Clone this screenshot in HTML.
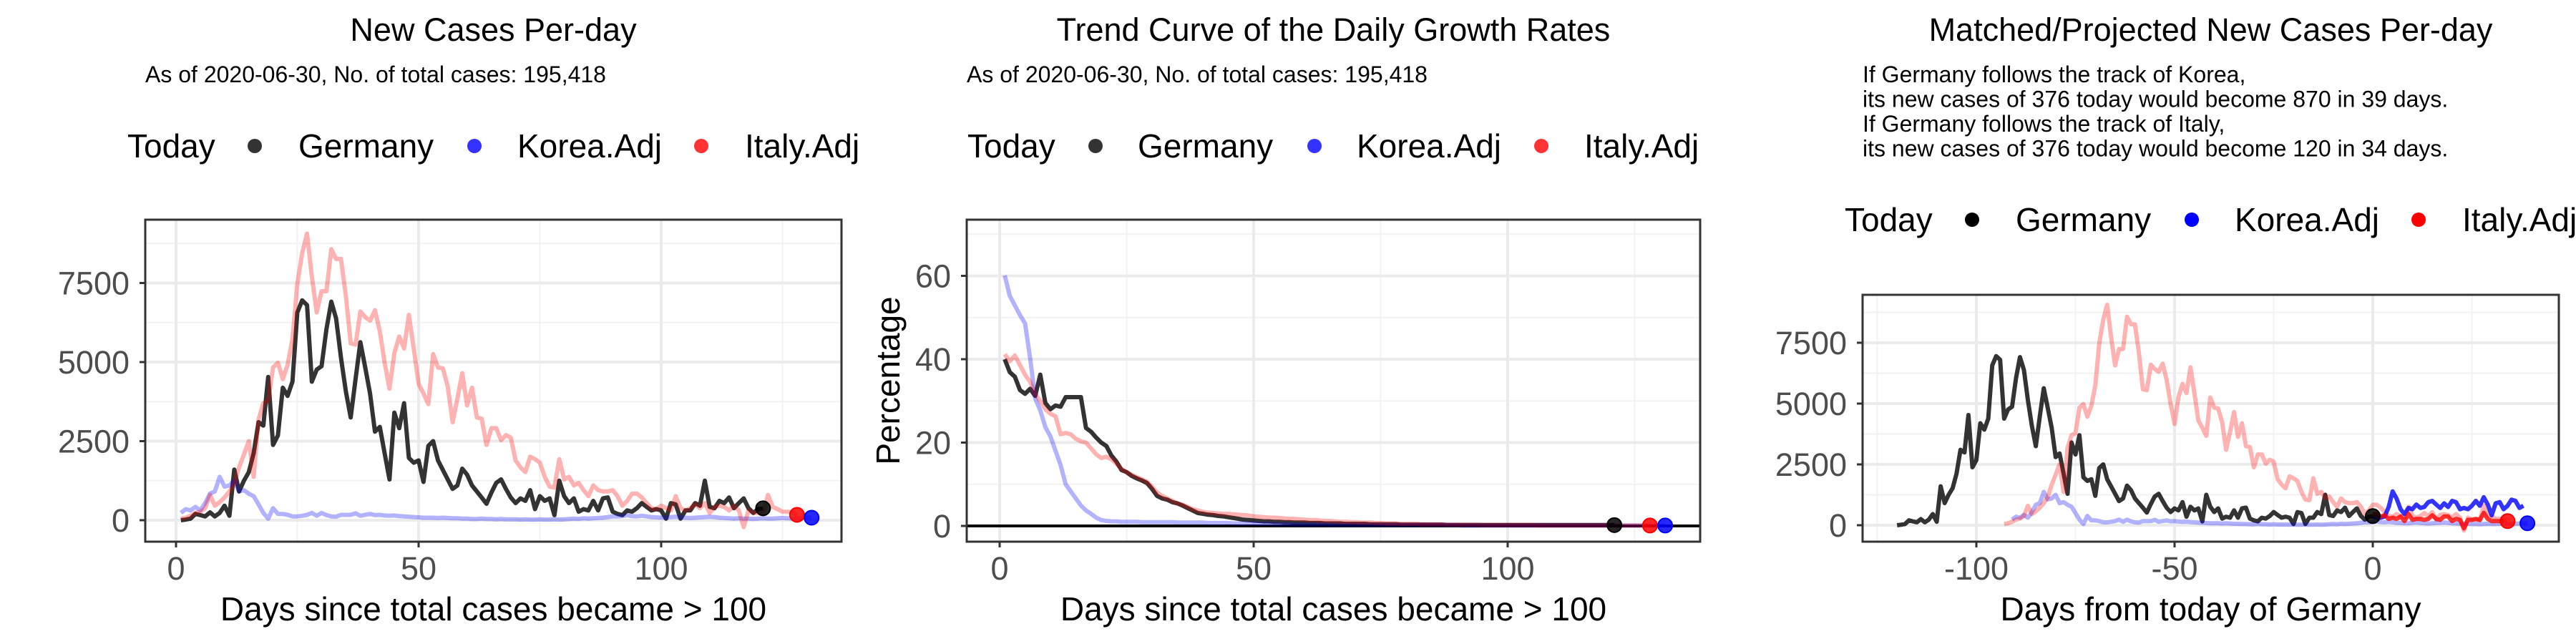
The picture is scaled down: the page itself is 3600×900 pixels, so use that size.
<!DOCTYPE html>
<html><head><meta charset="utf-8">
<style>
html,body{margin:0;padding:0;background:#fff;}
svg{display:block;font-family:"Liberation Sans",Arial,sans-serif;}
</style></head>
<body>
<svg id="chart" width="3600" height="900" viewBox="0 0 3600 900" xmlns="http://www.w3.org/2000/svg">
<defs>
<clipPath id="clip1"><rect x="203" y="307" width="973" height="450"/></clipPath>
<clipPath id="clip2"><rect x="151" y="307" width="1025" height="450"/></clipPath>
<clipPath id="clip3"><rect x="203" y="412" width="973" height="345"/></clipPath>
</defs>
<rect width="3600" height="900" fill="#fff"/>
</svg>
<script>
// ---------- data ----------
const germanyNew = [0,20,50,200,160,120,250,120,230,460,140,1600,910,1250,1520,2120,3100,2990,4530,2380,2680,4190,3930,4380,6570,6950,6800,4380,4760,4870,6040,6910,6380,5140,4080,3250,4460,5630,4830,4000,2800,2950,2120,1290,3400,2910,3700,1970,1820,1890,1210,2350,2500,1890,1590,1290,990,1100,1630,1440,1100,910,720,520,870,1180,1290,990,720,540,690,610,950,350,760,610,690,160,1250,760,540,690,270,350,310,610,310,690,720,270,200,160,310,270,380,540,420,310,350,310,50,540,500,50,310,310,540,460,1250,420,380,610,540,720,380,540,690,380,230,350,376];
const italyNew = [50,80,140,230,270,380,800,460,570,720,910,1140,1670,2080,2500,1370,3180,3700,3780,4830,4980,4460,4910,5740,7470,8450,9060,7700,6570,7240,7240,8570,8260,8260,7100,5590,5550,6600,6420,6310,6640,5970,4980,4160,5280,5810,5430,6490,5430,4310,4010,3670,5250,4830,4800,4230,3100,3850,4650,3630,4190,3250,3210,2380,2910,2910,2530,2690,2610,1890,1670,1520,2010,1930,1820,1370,1060,1030,1930,1290,1370,1100,1180,950,760,1100,950,910,910,950,760,460,610,840,840,720,540,380,350,460,380,310,760,380,310,380,500,380,540,230,420,460,420,310,460,310,-220,310,230,230,200,800,420,350,270,270,250,170];
const koreaNew = [230,350,310,420,310,540,840,910,1370,1060,1100,1250,910,950,840,760,500,230,50,380,200,200,170,120,120,140,170,230,140,230,160,120,110,170,170,170,220,140,170,200,160,170,150,140,150,130,120,110,100,90,80,80,80,70,80,70,60,60,50,50,40,40,50,40,40,30,40,30,30,30,20,30,20,20,30,20,20,30,20,30,40,50,40,60,50,60,70,80,100,120,120,130,160,130,120,140,120,100,90,80,80,100,110,90,80,70,80,90,100,110,100,80,70,60,50,60,50,50,40,50,60,50,50,60,70,60,50,60,70,80,80];
const germanyRate = [40,36.9,35.8,32.6,31.7,32.9,31.2,36.3,29.5,28.0,28.9,28.6,30.9,30.9,30.9,30.9,23.5,22.6,21.2,20.0,19.2,16.9,15.4,13.4,12.9,12.0,11.4,10.9,10.3,8.9,7.2,6.6,6.3,5.7,5.4,4.9,4.3,3.7,3.1,2.9,2.7,2.6,2.4,2.3,2.1,1.9,1.7,1.5,1.4,1.3,1.2,1.1,1.1,1.0,1.0,0.9,0.9,0.8,0.8,0.8,0.7,0.7,0.7,0.6,0.6,0.6,0.6,0.5,0.5,0.5,0.5,0.5,0.4,0.4,0.4,0.4,0.4,0.4,0.3,0.3,0.3,0.3,0.3,0.3,0.3,0.3,0.3,0.2,0.2,0.2,0.2,0.2,0.2,0.2,0.2,0.2,0.2,0.2,0.2,0.2,0.2,0.2,0.2,0.2,0.2,0.2,0.2,0.2,0.2,0.2,0.2,0.2,0.2,0.2,0.2,0.2,0.2,0.2,0.2,0.2,0.2];
const italyRate = [41.2,39.5,40.9,38.6,36.3,34.6,31.7,30.0,28.0,26.9,26.3,22.0,22.3,22.0,20.9,20.3,20.0,18.6,17.2,16.3,16.6,16.0,14.9,13.7,12.9,12.3,11.7,11.2,10.6,9.4,8.0,7.2,6.6,6.0,5.4,5.1,4.6,4.0,3.7,3.4,3.2,3.1,3.0,2.9,2.9,2.8,2.7,2.6,2.5,2.3,2.2,2.1,2.0,2.0,1.9,1.8,1.7,1.7,1.6,1.5,1.4,1.4,1.3,1.2,1.2,1.1,1.0,1.0,0.9,0.9,0.8,0.8,0.8,0.7,0.7,0.6,0.6,0.6,0.5,0.5,0.5,0.5,0.4,0.4,0.4,0.4,0.4,0.3,0.3,0.3,0.3,0.3,0.3,0.3,0.2,0.2,0.2,0.2,0.2,0.2,0.2,0.2,0.2,0.2,0.2,0.1,0.1,0.1,0.1,0.1,0.1,0.1,0.1,0.1,0.1,0.1,0.1,0.1,0.1,0.1,0.1,0.1,0.1,0.1,0.1,0.1,0.1,0.1];
const koreaRate = [60.1,55.2,52.9,50.6,48.6,40.3,30.6,27.7,23.7,21.5,18.0,14.6,10.0,8.3,6.6,4.9,3.7,2.9,2.0,1.4,1.2,1.1,1.1,1.0,1.0,1.0,1.0,0.9,0.9,0.9,0.9,0.9,0.9,0.9,0.8,0.8,0.8,0.8,0.8,0.8,0.7,0.7,0.7,0.7,0.7,0.6,0.6,0.6,0.6,0.6,0.5,0.5,0.5,0.4,0.4,0.4,0.4,0.3,0.3,0.3,0.3,0.3,0.3,0.3,0.2,0.2,0.2,0.2,0.2,0.2,0.2,0.2,0.2,0.2,0.2,0.2,0.2,0.2,0.2,0.2,0.2,0.2,0.2,0.2,0.2,0.2,0.2,0.2,0.2,0.2,0.1,0.1,0.1,0.1,0.1,0.1,0.1,0.1,0.1,0.1,0.1,0.1,0.1,0.1,0.1,0.1,0.1,0.1,0.1,0.1,0.1,0.1,0.1,0.1,0.1,0.1,0.1,0.1,0.1,0.1,0.1,0.1,0.1,0.1,0.1,0.1,0.1,0.1,0.1,0.1,0.1];
const koreaProj = [360,310,310,360,750,1390,1100,660,460,710,660,850,710,750,950,1000,850,710,900,750,1000,950,660,710,660,800,1000,800,1150,850,410,900,950,660,800,1050,1000,710,800];
const italyProj = [460,460,360,410,260,310,260,360,170,460,220,260,260,220,260,410,260,220,360,360,170,260,220,-130,220,220,260,220,510,260,170,170,170,170];
const germanyToday = 121, koreaMatchDay = 92, italyMatchDay = 94;
const ticks1X = [0,50,100], ticks1Y = [0,2500,5000,7500];
const ticks2Y = [0,20,40,60];
const ticks3X = [-100,-50,0];

// ---------- helpers ----------
const NS = "http://www.w3.org/2000/svg";
const svg = document.getElementById("chart");
function mk(tag, attrs, parent){
  const e = document.createElementNS(NS, tag);
  for (const k in attrs) e.setAttribute(k, attrs[k]);
  (parent||svg).appendChild(e);
  return e;
}
function txt(s, attrs, parent){ const e = mk("text", attrs, parent); e.textContent = s; return e; }

function panel(o){
  const g = mk("g", {transform:`translate(${o.ox},0)`});
  
  
  const {bx0,bx1,by0,by1} = o;
  const grid = mk("g", {}, g);
  
  
  o.minorX.forEach(v=>{ const x=o.xs(v); if(x>bx0&&x<bx1) mk("line",{x1:x,x2:x,y1:by0,y2:by1,stroke:"#f2f2f2","stroke-width":2},grid);});
  o.minorY.forEach(v=>{ const y=o.ys(v); if(y>by0&&y<by1) mk("line",{x1:bx0,x2:bx1,y1:y,y2:y,stroke:"#f2f2f2","stroke-width":2},grid);});
  o.ticksX.forEach(v=>{ const x=o.xs(v); mk("line",{x1:x,x2:x,y1:by0,y2:by1,stroke:"#ebebeb","stroke-width":4},grid);});
  o.ticksY.forEach(v=>{ const y=o.ys(v); mk("line",{x1:bx0,x2:bx1,y1:y,y2:y,stroke:"#ebebeb","stroke-width":4},grid);});
  const plot = mk("g", {"clip-path":`url(#${o.clip})`}, g);
  
  
  if (o.hline){ const y=o.ys(0); mk("line",{x1:bx0,x2:bx1,y1:y,y2:y,stroke:"#000","stroke-width":4},plot); }
  o.series.forEach(s=>{
    const pts = s.data.map((v,i)=>`${o.xs(s.start+i).toFixed(1)},${o.ys(v).toFixed(1)}`).join(" ");
    const p = mk("polyline",{points:pts,fill:"none",stroke:s.color,"stroke-opacity":s.op,"stroke-width":6,"stroke-linejoin":"round"},plot);
    
    
  });
  o.dots.forEach(d=>{
    const c = mk("circle",{cx:o.xs(d.x),cy:o.ys(d.v),r:10,fill:d.color,"fill-opacity":0.85,stroke:d.color,"stroke-width":2},plot);
    
    
  });
  mk("rect",{x:bx0,y:by0,width:bx1-bx0,height:by1-by0,fill:"none",stroke:"#333","stroke-width":3},g);
  // ticks
  o.ticksX.forEach(v=>{ const x=o.xs(v);
    mk("line",{x1:x,x2:x,y1:by1,y2:by1+8,stroke:"#333","stroke-width":3},g);
    const t = txt(String(v),{x:x,y:810,"font-size":45,fill:"#4d4d4d","text-anchor":"middle"},g);
    
    
  });
  o.ticksY.forEach(v=>{ const y=o.ys(v);
    mk("line",{x1:bx0-8,x2:bx0,y1:y,y2:y,stroke:"#333","stroke-width":3},g);
    const t = txt(String(v),{x:bx0-22,y:y+16,"font-size":45,fill:"#4d4d4d","text-anchor":"end"},g);
    
    
  });
  const xt = txt(o.xtitle,{x:(bx0+bx1)/2,y:867,"font-size":46,fill:"#000","text-anchor":"middle"},g);
  
  
  if (o.ytitle){
    const yt = txt(o.ytitle,{x:0,y:0,"font-size":46,fill:"#000","text-anchor":"middle",transform:`translate(57,${(by0+by1)/2}) rotate(-90)`},g);
    
    
  }
  const tt = txt(o.title,{x:(bx0+bx1)/2,y:57,"font-size":45,fill:"#000","text-anchor":"middle"},g);
  
  
  o.sub.forEach((s,i)=>{
    const st = txt(s,{x:bx0,y:115+i*34.5,"font-size":32,fill:"#000"},g);
    
    
  });
  // legend
  const L = o.legend;
  const lg = mk("g",{},g);
  
  
  txt("Today",{x:L.x,y:L.y+16,"font-size":46,fill:"#000"},lg);
  const labels = ["Germany","Korea.Adj","Italy.Adj"];
  labels.forEach((lab,i)=>{
    const e = mk("g",{},lg);
    
    
    mk("circle",{cx:L.dots[i],cy:L.y,r:10,fill:L.colors[i]},e);
    txt(lab,{x:L.texts[i],y:L.y+16,"font-size":46,fill:"#000"},e);
  });
}

const blk = "#000";
// Panel 1
const x1 = d => 246 + d*6.78, y1 = v => 727 - v*110.5/2500;
panel({ox:0,name:"new-cases-panel",clip:"clip1",bx0:203,bx1:1176,by0:307,by1:757,xs:x1,ys:y1,
  ticksX:ticks1X,ticksY:ticks1Y,minorX:[25,75,125],minorY:[1250,3750,6250,8750],
  series:[
    {name:"germany-line",data:germanyNew,start:1,color:blk,op:0.8},
    {name:"korea-line",data:koreaNew,start:1,color:"#0000ff",op:0.3},
    {name:"italy-line",data:italyNew,start:1,color:"#ff0000",op:0.3}],
  dots:[
    {name:"germany-today-dot",x:germanyNew.length,v:germanyNew[germanyNew.length-1],color:"#000"},
    {name:"italy-today-dot",x:italyNew.length,v:italyNew[italyNew.length-1],color:"#ff0000"},
    {name:"korea-today-dot",x:koreaNew.length,v:koreaNew[koreaNew.length-1],color:"#0000ff"}],
  xtitle:"Days since total cases became > 100",title:"New Cases Per-day",
  sub:["As of 2020-06-30, No. of total cases: 195,418"],
  legend:{x:178,y:204,dots:[356,663,980],texts:[417,723,1041],colors:["#333","#3333ff","#ff3333"]}});

// Panel 2
const x2 = d => 197 + d*7.1, y2 = v => 735 - v*5.825;
panel({ox:1200,name:"growth-rate-panel",clip:"clip2",bx0:151,bx1:1176,by0:307,by1:757,xs:x2,ys:y2,
  ticksX:ticks1X,ticksY:ticks2Y,minorX:[25,75,125],minorY:[10,30,50,70],hline:true,
  series:[
    {name:"germany-rate-line",data:germanyRate,start:1,color:blk,op:0.8},
    {name:"korea-rate-line",data:koreaRate,start:1,color:"#0000ff",op:0.3},
    {name:"italy-rate-line",data:italyRate,start:1,color:"#ff0000",op:0.3}],
  dots:[
    {name:"germany-today-dot",x:germanyRate.length,v:germanyRate[germanyRate.length-1],color:"#000"},
    {name:"italy-today-dot",x:italyRate.length,v:italyRate[italyRate.length-1],color:"#ff0000"},
    {name:"korea-today-dot",x:koreaRate.length,v:koreaRate[koreaRate.length-1],color:"#0000ff"}],
  xtitle:"Days since total cases became > 100",ytitle:"Percentage",title:"Trend Curve of the Daily Growth Rates",
  sub:["As of 2020-06-30, No. of total cases: 195,418"],
  legend:{x:152,y:204,dots:[331,637,954],texts:[390,696,1014],colors:["#333","#3333ff","#ff3333"]}});

// Panel 3
const x3 = t => 916 + t*5.54, y3 = v => 734 - v*85/2500;
panel({ox:2400,name:"projected-cases-panel",clip:"clip3",bx0:203,bx1:1176,by0:412,by1:757,xs:x3,ys:y3,
  ticksX:ticks3X,ticksY:ticks1Y,minorX:[-125,-75,-25,25],minorY:[1250,3750,6250,8750],
  series:[
    {name:"germany-line",data:germanyNew,start:1-germanyToday,color:blk,op:0.8},
    {name:"korea-matched-line",data:koreaNew,start:1-koreaMatchDay,color:"#0000ff",op:0.3},
    {name:"italy-matched-line",data:italyNew,start:1-italyMatchDay,color:"#ff0000",op:0.3},
    {name:"korea-projection-line",data:koreaProj,start:0,color:"#0000ff",op:0.8},
    {name:"italy-projection-line",data:italyProj,start:0,color:"#ff0000",op:0.8}],
  dots:[
    {name:"germany-today-dot",x:0,v:germanyNew[germanyNew.length-1],color:"#000"},
    {name:"italy-end-dot",x:italyNew.length-italyMatchDay,v:italyNew[italyNew.length-1],color:"#ff0000"},
    {name:"korea-end-dot",x:koreaNew.length-koreaMatchDay,v:koreaNew[koreaNew.length-1],color:"#0000ff"}],
  xtitle:"Days from today of Germany",title:"Matched/Projected New Cases Per-day",
  sub:["If Germany follows the track of Korea,","its new cases of 376 today would become 870 in 39 days.","If Germany follows the track of Italy,","its new cases of 376 today would become 120 in 34 days."],
  legend:{x:178,y:307,dots:[356,663,980],texts:[417,723,1041],colors:["#000","#0000ff","#ff0000"]}});
</script>
</body></html>
